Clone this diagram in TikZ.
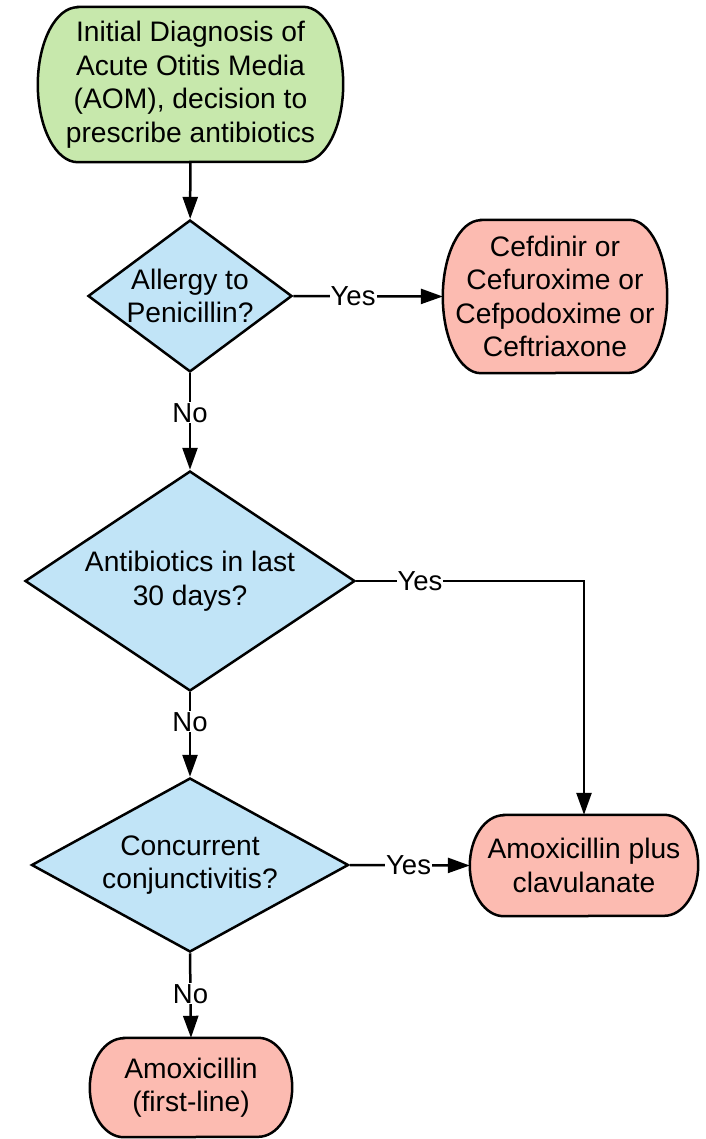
\documentclass[tikz,border=0pt]{standalone}
\usepackage{fontspec}
\setmainfont{Liberation Sans}
\usetikzlibrary{shapes.geometric,arrows.meta,backgrounds}
\definecolor{termgreen}{HTML}{C7E8AC}
\definecolor{decblue}{HTML}{C1E4F7}
\definecolor{termred}{HTML}{FCBBB1}
\newcommand{\mytermbg}[4]{%
  \draw[shapeline, fill=#4] ([xshift=#2]#1.north west) -- ([xshift=-#2]#1.north east)
    arc[start angle=90, end angle=-90, x radius=#2, y radius=#3]
    -- ([xshift=#2]#1.south west)
    arc[start angle=270, end angle=90, x radius=#2, y radius=#3] -- cycle;}
\tikzset{
  txt/.style={font=\fontsize{28.2}{33.5}\selectfont, align=center, inner sep=0pt},
  shapeline/.style={draw=black, line width=2.5pt},
  term/.style={txt, rectangle},
  dec/.style={shapeline, diamond, fill=decblue, inner sep=0pt},
  conn/.style={line width=2.5pt, -{Triangle[length=22pt,width=15pt]}},
  lbl/.style={fill=white, inner sep=1pt, font=\fontsize{27.5}{33}\selectfont}
}
\begin{document}
\begin{tikzpicture}[x=1pt,y=-1pt]
\useasboundingbox (0,0) rectangle (705,1139);
\node[term, minimum width=305pt, minimum height=155pt] (start) at (190.5,84.5)
  {Initial Diagnosis of\\Acute Otitis Media\\(AOM), decision to\\prescribe antibiotics};
\node[dec, minimum width=204pt, minimum height=152pt,
  label={[txt]center:Allergy to\\Penicillin?}] (d1) at (190,296) {};
\node[term, minimum width=224pt, minimum height=153pt] (cef) at (555,296.5)
  {Cefdinir or\\Cefuroxime or\\Cefpodoxime or\\Ceftriaxone};
\node[dec, minimum width=330pt, minimum height=220pt,
  label={[txt]center:Antibiotics in last\\30 days?}] (d2) at (190,581) {};
\node[dec, minimum width=317pt, minimum height=174pt,
  label={[txt]center:Concurrent\\conjunctivitis?}] (d3) at (190,865) {};
\node[term, minimum width=228pt, minimum height=101pt] (amc) at (584,865.5)
  {Amoxicillin plus\\clavulanate};
\node[term, minimum width=202pt, minimum height=99pt] (amx) at (191,1087.5)
  {Amoxicillin\\(first-line)};
\begin{scope}[on background layer]
  \mytermbg{start}{40pt}{77.5pt}{termgreen}
  \mytermbg{cef}{38pt}{76.5pt}{termred}
  \mytermbg{amc}{34pt}{50.5pt}{termred}
  \mytermbg{amx}{34pt}{49.5pt}{termred}
\end{scope}
\draw[conn] (start) -- (d1);
\draw[conn] (d1.east) -- node[lbl, pos=0.4] {Yes} (cef.west);
\draw[conn] (d1.south) -- node[lbl, pos=0.41] {No} (d2.north);
\draw[conn] (d2.east) -- node[lbl, pos=0.28] {Yes} (d2.east -| amc.north) -- (amc.north);
\draw[conn] (d2.south) -- node[lbl, pos=0.35] {No} (d3.north);
\draw[conn] (d3.east) -- node[lbl, pos=0.49] {Yes} (amc.west);
\draw[conn] (d3.south) -- node[lbl, pos=0.48] {No} (amx.north);
\end{tikzpicture}
\end{document}
